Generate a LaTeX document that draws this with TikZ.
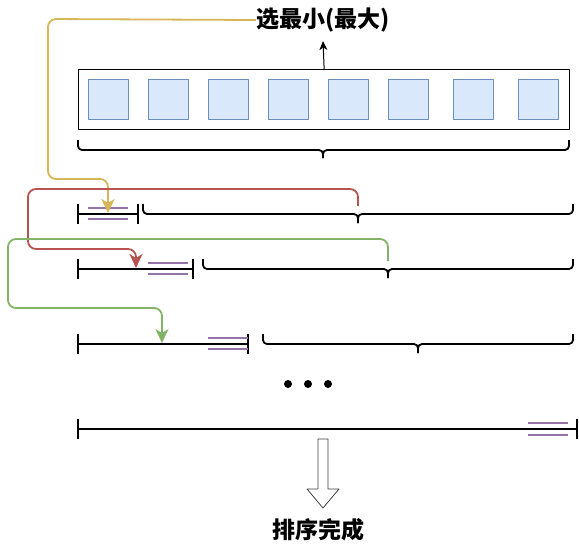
\documentclass[tikz,border=0pt]{standalone}
\usepackage{fontspec}
\newfontfamily\cjk{Noto Sans CJK SC}
\usetikzlibrary{arrows.meta}
\definecolor{yel}{HTML}{D6B656}
\definecolor{redc}{HTML}{B85450}
\definecolor{grn}{HTML}{82B366}
\definecolor{purp}{HTML}{9673A6}
\definecolor{sqf}{HTML}{DAE8FC}
\definecolor{sqb}{HTML}{6C8EBF}
\newcommand\mybrace[5]{%
  \draw[brc] (#1,#4) -- (#1,#4+10) -- (#3,#4+10) -- (#3,#5);
  \draw[brc] (#2,#4) -- (#2,#4+10) -- (#3,#4+10) -- (#3,#5);}
\begin{document}
\begin{tikzpicture}[x=1pt,y=-1pt,line join=round]
\useasboundingbox (0,0) rectangle (579,550);
\tikzset{
  sq/.style={draw=sqb, fill=sqf, minimum size=40pt, inner sep=0pt, anchor=north west, line width=1pt},
  blk/.style={line width=1.8pt},
  pur/.style={draw=purp, line width=1.6pt},
  brc/.style={line width=1.8pt, rounded corners=4pt},
  conn/.style={line width=1.8pt, rounded corners=8pt, -{Stealth[length=14pt,width=13pt,inset=4pt]}},
  lbl/.style={font=\cjk\bfseries\fontsize{23}{23}\selectfont, inner sep=0pt},
}
% top label and box
\node[lbl] (top) at (323,20) {选最小(最大)};
\node[draw, line width=1.3pt, minimum width=491pt, minimum height=60pt, anchor=north west, inner sep=0pt] (box) at (78,69) {};
\foreach \x/\n in {88/1,148/2,208/3,268/4,328/5,388/6,453/7,518/8}
  \node[sq] (s\n) at (\x,79) {};
\coordinate (toptip) at (323,41);
\draw[line width=1pt, -{Stealth[length=9pt,width=8pt,inset=2.5pt]}] (box.north) -- (toptip);
\mybrace{78}{569}{323}{140}{158}
% row 1
\draw[blk] (78,214) -- (138,214) (78,204) -- (78,224) (138,204) -- (138,224);
\draw[pur] (88,208) -- (128,208) (88,219) -- (128,219);
\mybrace{143}{573}{358}{204}{223}
% row 2
\draw[blk] (78,269) -- (193,269) (78,259) -- (78,279) (193,259) -- (193,279);
\draw[pur] (148,263) -- (188,263) (148,274) -- (188,274);
\mybrace{203}{573}{388}{259}{278}
% row 3
\draw[blk] (78,344) -- (248,344) (78,334) -- (78,354) (248,334) -- (248,354);
\draw[pur] (208,338) -- (248,338) (208,349) -- (248,349);
\mybrace{263}{573}{418}{334}{353}
% dots
\foreach \x in {288,308,328} \fill (\x,384) circle (4pt);
% row 4
\draw[blk] (78,429) -- (577,429) (78,419) -- (78,439) (577,419) -- (577,439);
\draw[pur] (528,423) -- (568,423) (528,435) -- (568,435);
% connectors
\coordinate (r1tip) at (108,213);
\coordinate (b1) at (358,206);
\coordinate (r2tip) at (136,268);
\coordinate (b2) at (388,261);
\coordinate (r3tip) at (162,343);
\draw[conn, draw=yel, fill=none] (top.west) -- (48,19) -- (48,179) -- (108,179) -- (r1tip);
\draw[conn, draw=redc] (b1) -- (358,189) -- (28,189) -- (28,249) -- (136,249) -- (r2tip);
\draw[conn, draw=grn] (b2) -- (388,239) -- (8,239) -- (8,308) -- (162,308) -- (r3tip);
% hollow arrow and final label
\draw[line width=0.8pt, draw=black!75, fill=white] (318,439) -- (328,439) -- (328,489) -- (339,489) -- (323,508) -- (307,489) -- (318,489) -- cycle;
\node[lbl] (done) at (318,530) {排序完成};
\end{tikzpicture}
\end{document}
